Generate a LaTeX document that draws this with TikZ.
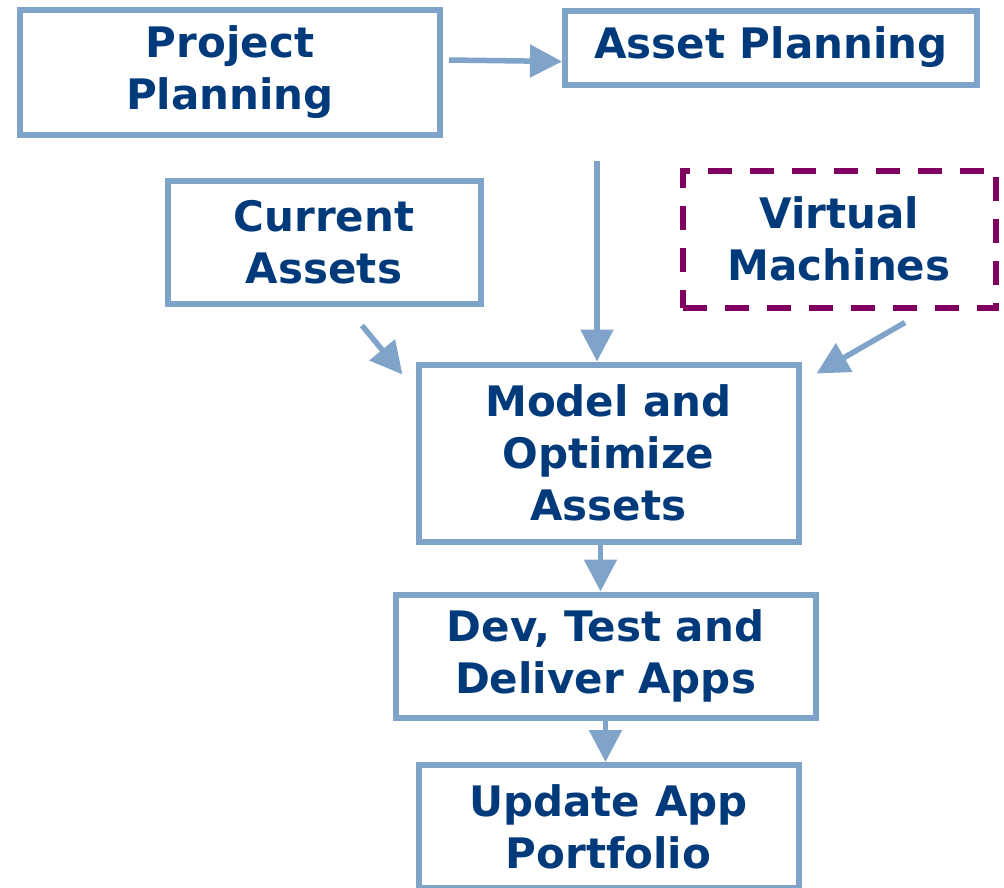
\documentclass[tikz,border=0pt]{standalone}
\usepackage{fontspec}
\setmainfont{DejaVu Sans}
\usetikzlibrary{arrows.meta,calc}
\definecolor{boxblue}{RGB}{127,163,201}
\definecolor{textblue}{RGB}{0,58,122}
\definecolor{vmpurple}{RGB}{128,0,96}

\begin{document}
\begin{tikzpicture}[x=1pt,y=-1pt,
    box/.style={draw=boxblue,line width=6pt,inner sep=0pt,align=center,text=textblue,
      font=\bfseries\fontsize{42}{52}\selectfont},
    arr/.style={draw=boxblue,line width=5.5pt,-{Triangle[length=32pt,width=32pt]}}]
    \useasboundingbox (0,0) rectangle (1004,887);
    \clip (0,0) rectangle (1004,887);

    \node[box,minimum width=420pt,minimum height=125pt] (pplan) at (230,72) {Project\\Planning};
    \node[box,minimum width=412pt,minimum height=74pt] (aplan) at (771,47.5) {Asset Planning};
    \node[box,minimum width=313pt,minimum height=123pt] (curassets) at (324,242) {Current\\Assets};
    \node[box,draw=vmpurple,dash pattern=on 24pt off 18pt,minimum width=313pt,minimum height=137pt] (vms) at (839,239) {Virtual\\Machines};
    \node[box,minimum width=380pt,minimum height=177pt] (model) at (608.5,453) {Model and\\Optimize\\Assets};
    \node[box,minimum width=420pt,minimum height=123pt] (devtest) at (605.5,656) {Dev, Test and\\Deliver Apps};
    \node[box,minimum width=380pt,minimum height=123pt] (update) at (608.5,826.5) {Update App\\Portfolio};

    \coordinate (adown) at ($(aplan.south)+(-174,73)$);
    \coordinate (cafrom) at ($(curassets.south)+(38,19)$);
    \coordinate (cato) at ($(model.north west)+(-13,13)$);
    \coordinate (vmfrom) at ($(vms.south)+(66,12)$);
    \coordinate (vmto) at ($(model.north east)+(15,12)$);

    \draw[arr] ([xshift=6pt,yshift=12pt]pplan.east) -- ([yshift=-14pt]aplan.west);
    \draw[arr] (adown) -- (adown |- model.north);
    \draw[arr] (cafrom) -- (cato);
    \draw[arr] (vmfrom) -- (vmto);
    \draw[arr] ([xshift=-8pt]model.south) -- ([xshift=-8pt]model.south |- devtest.north);
    \draw[arr] (devtest.south) -- (devtest.south |- update.north);
\end{tikzpicture}
\end{document}
